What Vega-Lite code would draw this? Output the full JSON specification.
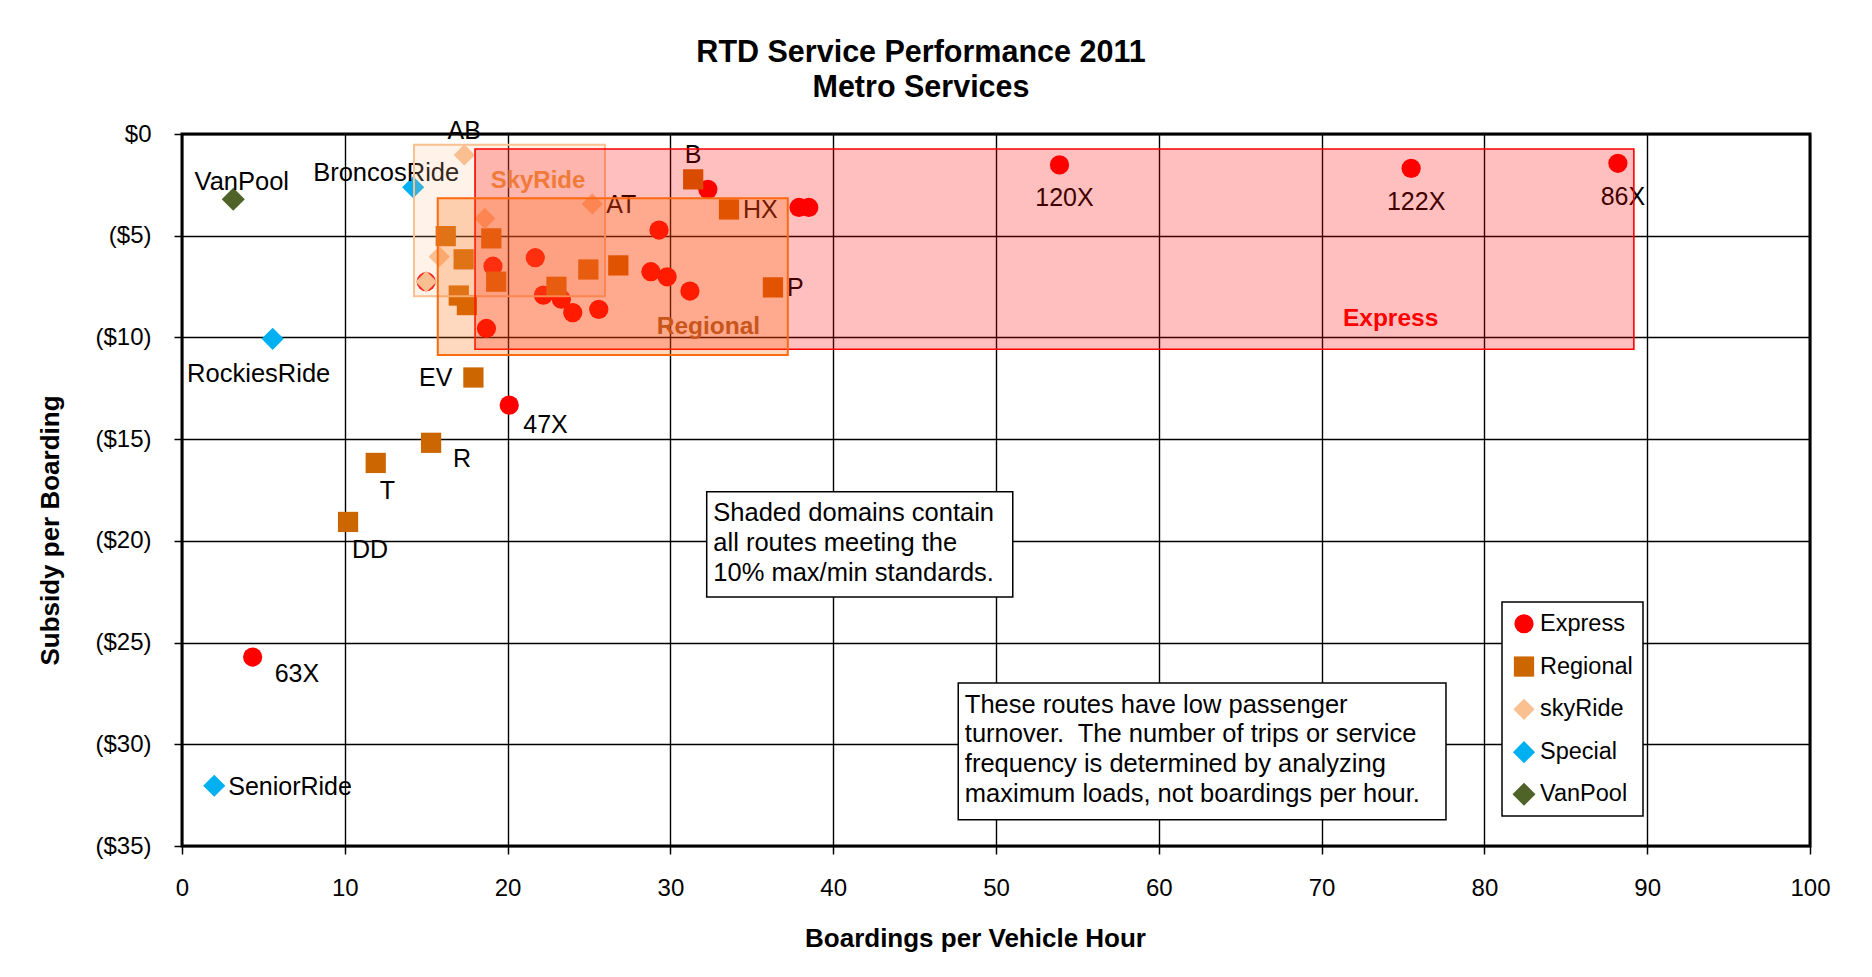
{
  "$schema": "https://vega.github.io/schema/vega-lite/v6.json",
  "width": 1628,
  "height": 712,
  "autosize": {"type": "none"},
  "padding": {"left": 182, "top": 134, "right": 62, "bottom": 131},
  "background": "white",
  "title": {
    "text": ["RTD Service Performance 2011", "Metro Services"],
    "font": "Liberation Sans",
    "fontSize": 30.5,
    "fontWeight": "bold",
    "color": "#000000",
    "anchor": "middle",
    "baseline": "bottom",
    "lineHeight": 35,
    "dx": -75,
    "dy": 45,
    "offset": 30
  },
  "config": {
    "view": {"stroke": "#000000", "strokeWidth": 3},
    "font": "Liberation Sans",
    "axis": {
      "domain": false,
      "grid": true,
      "gridColor": "#000000",
      "gridWidth": 1.4,
      "gridOpacity": 1,
      "ticks": true,
      "tickColor": "#000000",
      "tickWidth": 1.5,
      "tickSize": 8,
      "labelFlush": false,
      "labelOverlap": false,
      "labelFont": "Liberation Sans",
      "labelFontSize": 24,
      "labelColor": "#000000",
      "titleFont": "Liberation Sans",
      "titleFontSize": 26,
      "titleFontWeight": "bold",
      "titleColor": "#000000"
    },
    "legend": {
      "orient": "none",
      "legendX": 1320,
      "legendY": 468,
      "fillColor": "white",
      "strokeColor": "#000000",
      "strokeWidth": 1.5,
      "padding": 10,
      "labelFont": "Liberation Sans",
      "labelFontSize": 23.5,
      "labelColor": "#000000",
      "symbolSize": 110,
      "symbolStrokeWidth": 0,
      "rowPadding": 17.8,
      "labelOffset": 4
    }
  },
  "data": {
    "values": [
      {"route": "120X", "type": "Express", "bph": 53.9, "subsidy": -1.52},
      {"route": "122X", "type": "Express", "bph": 75.5, "subsidy": -1.69},
      {"route": "86X", "type": "Express", "bph": 88.2, "subsidy": -1.44},
      {"route": "", "type": "Express", "bph": 32.3, "subsidy": -2.72},
      {"route": "", "type": "Express", "bph": 37.9, "subsidy": -3.61},
      {"route": "", "type": "Express", "bph": 38.5, "subsidy": -3.61},
      {"route": "", "type": "Express", "bph": 29.3, "subsidy": -4.72},
      {"route": "", "type": "Express", "bph": 19.1, "subsidy": -6.5},
      {"route": "", "type": "Express", "bph": 21.7, "subsidy": -6.08},
      {"route": "", "type": "Express", "bph": 28.8, "subsidy": -6.77},
      {"route": "", "type": "Express", "bph": 29.8, "subsidy": -7.02},
      {"route": "", "type": "Express", "bph": 31.2, "subsidy": -7.72},
      {"route": "", "type": "Express", "bph": 22.2, "subsidy": -7.92},
      {"route": "", "type": "Express", "bph": 23.3, "subsidy": -8.12},
      {"route": "", "type": "Express", "bph": 24.0, "subsidy": -8.78},
      {"route": "", "type": "Express", "bph": 25.6, "subsidy": -8.62},
      {"route": "", "type": "Express", "bph": 18.7, "subsidy": -9.56},
      {"route": "", "type": "Express", "bph": 15.0, "subsidy": -7.26},
      {"route": "47X", "type": "Express", "bph": 20.1, "subsidy": -13.33},
      {"route": "63X", "type": "Express", "bph": 4.34, "subsidy": -25.71},
      {"route": "", "type": "Regional", "bph": 16.2, "subsidy": -5.02},
      {"route": "", "type": "Regional", "bph": 19.0, "subsidy": -5.13},
      {"route": "", "type": "Regional", "bph": 17.3, "subsidy": -6.16},
      {"route": "", "type": "Regional", "bph": 19.3, "subsidy": -7.26},
      {"route": "", "type": "Regional", "bph": 17.0, "subsidy": -7.94},
      {"route": "", "type": "Regional", "bph": 17.5, "subsidy": -8.41},
      {"route": "", "type": "Regional", "bph": 24.96, "subsidy": -6.66},
      {"route": "", "type": "Regional", "bph": 26.8, "subsidy": -6.46},
      {"route": "", "type": "Regional", "bph": 23.0, "subsidy": -7.51},
      {"route": "B", "type": "Regional", "bph": 31.4, "subsidy": -2.23},
      {"route": "HX", "type": "Regional", "bph": 33.6, "subsidy": -3.71},
      {"route": "P", "type": "Regional", "bph": 36.3, "subsidy": -7.54},
      {"route": "EV", "type": "Regional", "bph": 17.9, "subsidy": -11.97},
      {"route": "R", "type": "Regional", "bph": 15.3, "subsidy": -15.18},
      {"route": "T", "type": "Regional", "bph": 11.9, "subsidy": -16.17},
      {"route": "DD", "type": "Regional", "bph": 10.2, "subsidy": -19.07},
      {"route": "AB", "type": "skyRide", "bph": 17.34, "subsidy": -1.03},
      {"route": "", "type": "skyRide", "bph": 18.6, "subsidy": -4.15},
      {"route": "AT", "type": "skyRide", "bph": 25.2, "subsidy": -3.44},
      {"route": "", "type": "skyRide", "bph": 15.8, "subsidy": -6.03},
      {"route": "", "type": "skyRide", "bph": 15.0, "subsidy": -7.26},
      {"route": "BroncosRide", "type": "Special", "bph": 14.2, "subsidy": -2.62},
      {"route": "RockiesRide", "type": "Special", "bph": 5.57, "subsidy": -10.07},
      {"route": "SeniorRide", "type": "Special", "bph": 1.98, "subsidy": -32.04},
      {"route": "VanPool", "type": "VanPool", "bph": 3.15, "subsidy": -3.21}
    ]
  },
  "layer": [
    {
      "mark": {"type": "point", "filled": true, "opacity": 1, "strokeWidth": 0},
      "encoding": {
        "x": {
          "field": "bph", "type": "quantitative",
          "title": "Boardings per Vehicle Hour",
          "scale": {"domain": [0, 100], "nice": false},
          "axis": {
            "values": [0, 10, 20, 30, 40, 50, 60, 70, 80, 90, 100],
            "labelPadding": 22,
            "titleX": 793,
            "titleY": 100,
            "titleAlign": "center",
            "titleBaseline": "alphabetic"
          }
        },
        "y": {
          "field": "subsidy", "type": "quantitative",
          "title": "Subsidy per Boarding",
          "scale": {"domain": [-35, 0], "nice": false},
          "axis": {
            "values": [0, -5, -10, -15, -20, -25, -30, -35],
            "labelExpr": "datum.value == 0 ? '$0' : '($' + (-datum.value) + ')'",
            "labelPadding": 23,
            "titleAngle": 270,
            "titleX": -132,
            "titleY": 396,
            "titleAlign": "center",
            "titleBaseline": "middle"
          }
        },
        "color": {
          "field": "type", "type": "nominal",
          "scale": {
            "domain": ["Express", "Regional", "skyRide", "Special", "VanPool"],
            "range": ["#FF0000", "#CC6600", "#FAC090", "#00B0F0", "#4F6228"]
          },
          "legend": {"title": null}
        },
        "shape": {
          "field": "type", "type": "nominal",
          "scale": {
            "domain": ["Express", "Regional", "skyRide", "Special", "VanPool"],
            "range": ["circle", "square", "diamond", "diamond", "diamond"]
          },
          "legend": {"title": null}
        },
        "size": {
          "field": "type", "type": "nominal",
          "scale": {
            "domain": ["Express", "Regional", "skyRide", "Special", "VanPool"],
            "range": [370, 530, 400, 470, 440]
          },
          "legend": null
        }
      }
    },
    {
      "transform": [{"filter": {"field": "route", "oneOf": ["120X", "122X", "86X"]}}],
      "mark": {"type": "text", "align": "center", "baseline": "alphabetic", "dx": 5, "dy": 41.5, "fontSize": 25, "font": "Liberation Sans", "color": "#000000"},
      "encoding": {
        "x": {"field": "bph", "type": "quantitative", "title": "Boardings per Vehicle Hour", "scale": {"domain": [0, 100], "nice": false}},
        "y": {"field": "subsidy", "type": "quantitative", "title": "Subsidy per Boarding", "scale": {"domain": [-35, 0], "nice": false}},
        "text": {"field": "route"}
      }
    },
    {
      "transform": [{"filter": {"field": "route", "oneOf": ["T", "DD"]}}],
      "mark": {"type": "text", "align": "left", "baseline": "alphabetic", "dx": 4, "dy": 36, "fontSize": 25, "font": "Liberation Sans", "color": "#000000"},
      "encoding": {
        "x": {"field": "bph", "type": "quantitative", "title": "Boardings per Vehicle Hour", "scale": {"domain": [0, 100], "nice": false}},
        "y": {"field": "subsidy", "type": "quantitative", "title": "Subsidy per Boarding", "scale": {"domain": [-35, 0], "nice": false}},
        "text": {"field": "route"}
      }
    },
    {
      "transform": [{"filter": {"field": "route", "oneOf": ["47X"]}}],
      "mark": {"type": "text", "align": "left", "baseline": "alphabetic", "dx": 14, "dy": 28, "fontSize": 25, "font": "Liberation Sans", "color": "#000000"},
      "encoding": {
        "x": {"field": "bph", "type": "quantitative", "title": "Boardings per Vehicle Hour", "scale": {"domain": [0, 100], "nice": false}},
        "y": {"field": "subsidy", "type": "quantitative", "title": "Subsidy per Boarding", "scale": {"domain": [-35, 0], "nice": false}},
        "text": {"field": "route"}
      }
    },
    {
      "transform": [{"filter": {"field": "route", "oneOf": ["63X", "R"]}}],
      "mark": {"type": "text", "align": "left", "baseline": "alphabetic", "dx": 22, "dy": 24.5, "fontSize": 25, "font": "Liberation Sans", "color": "#000000"},
      "encoding": {
        "x": {"field": "bph", "type": "quantitative", "title": "Boardings per Vehicle Hour", "scale": {"domain": [0, 100], "nice": false}},
        "y": {"field": "subsidy", "type": "quantitative", "title": "Subsidy per Boarding", "scale": {"domain": [-35, 0], "nice": false}},
        "text": {"field": "route"}
      }
    },
    {
      "transform": [{"filter": {"field": "route", "oneOf": ["HX", "P", "AT", "SeniorRide"]}}],
      "mark": {"type": "text", "align": "left", "baseline": "alphabetic", "dx": 14, "dy": 9, "fontSize": 25, "font": "Liberation Sans", "color": "#000000"},
      "encoding": {
        "x": {"field": "bph", "type": "quantitative", "title": "Boardings per Vehicle Hour", "scale": {"domain": [0, 100], "nice": false}},
        "y": {"field": "subsidy", "type": "quantitative", "title": "Subsidy per Boarding", "scale": {"domain": [-35, 0], "nice": false}},
        "text": {"field": "route"}
      }
    },
    {
      "transform": [{"filter": {"field": "route", "oneOf": ["EV"]}}],
      "mark": {"type": "text", "align": "right", "baseline": "alphabetic", "dx": -21, "dy": 8, "fontSize": 25, "font": "Liberation Sans", "color": "#000000"},
      "encoding": {
        "x": {"field": "bph", "type": "quantitative", "title": "Boardings per Vehicle Hour", "scale": {"domain": [0, 100], "nice": false}},
        "y": {"field": "subsidy", "type": "quantitative", "title": "Subsidy per Boarding", "scale": {"domain": [-35, 0], "nice": false}},
        "text": {"field": "route"}
      }
    },
    {
      "transform": [{"filter": {"field": "route", "oneOf": ["B", "AB"]}}],
      "mark": {"type": "text", "align": "center", "baseline": "alphabetic", "dx": 0, "dy": -16, "fontSize": 25, "font": "Liberation Sans", "color": "#000000"},
      "encoding": {
        "x": {"field": "bph", "type": "quantitative", "title": "Boardings per Vehicle Hour", "scale": {"domain": [0, 100], "nice": false}},
        "y": {"field": "subsidy", "type": "quantitative", "title": "Subsidy per Boarding", "scale": {"domain": [-35, 0], "nice": false}},
        "text": {"field": "route"}
      }
    },
    {
      "transform": [{"filter": {"field": "route", "oneOf": ["VanPool"]}}],
      "mark": {"type": "text", "align": "center", "baseline": "alphabetic", "dx": 8.5, "dy": -9, "fontSize": 25.5, "font": "Liberation Sans", "color": "#000000"},
      "encoding": {
        "x": {"field": "bph", "type": "quantitative", "title": "Boardings per Vehicle Hour", "scale": {"domain": [0, 100], "nice": false}},
        "y": {"field": "subsidy", "type": "quantitative", "title": "Subsidy per Boarding", "scale": {"domain": [-35, 0], "nice": false}},
        "text": {"field": "route"}
      }
    },
    {
      "transform": [{"filter": {"field": "route", "oneOf": ["BroncosRide"]}}],
      "mark": {"type": "text", "align": "center", "baseline": "alphabetic", "dx": -27, "dy": -6.6, "fontSize": 25.5, "font": "Liberation Sans", "color": "#000000"},
      "encoding": {
        "x": {"field": "bph", "type": "quantitative", "title": "Boardings per Vehicle Hour", "scale": {"domain": [0, 100], "nice": false}},
        "y": {"field": "subsidy", "type": "quantitative", "title": "Subsidy per Boarding", "scale": {"domain": [-35, 0], "nice": false}},
        "text": {"field": "route"}
      }
    },
    {
      "transform": [{"filter": {"field": "route", "oneOf": ["RockiesRide"]}}],
      "mark": {"type": "text", "align": "center", "baseline": "alphabetic", "dx": -14, "dy": 43, "fontSize": 25.5, "font": "Liberation Sans", "color": "#000000"},
      "encoding": {
        "x": {"field": "bph", "type": "quantitative", "title": "Boardings per Vehicle Hour", "scale": {"domain": [0, 100], "nice": false}},
        "y": {"field": "subsidy", "type": "quantitative", "title": "Subsidy per Boarding", "scale": {"domain": [-35, 0], "nice": false}},
        "text": {"field": "route"}
      }
    },
    {
      "data": {"name": "domains", "values": [
        {"domain": "SkyRide", "x1": 14.25, "x2": 25.98, "y1": -0.53, "y2": -7.97, "lx": 18.96, "ly": -2.67},
        {"domain": "Express", "x1": 18.0, "x2": 89.18, "y1": -0.74, "y2": -10.58, "lx": 71.31, "ly": -9.44},
        {"domain": "Regional", "x1": 15.71, "x2": 37.21, "y1": -3.16, "y2": -10.86, "lx": 29.16, "ly": -9.84}
      ]},
      "layer": [
        {
          "transform": [{"filter": "datum.domain == 'SkyRide'"}],
          "mark": {"type": "rect", "fill": "#FAC090", "fillOpacity": 0.2, "stroke": "#FAC090", "strokeWidth": 2},
          "encoding": {
            "x": {"field": "x1", "type": "quantitative", "title": "Boardings per Vehicle Hour", "scale": {"domain": [0, 100], "nice": false}},
            "x2": {"field": "x2"},
            "y": {"field": "y1", "type": "quantitative", "title": "Subsidy per Boarding", "scale": {"domain": [-35, 0], "nice": false}},
            "y2": {"field": "y2"}
          }
        },
        {
          "transform": [{"filter": "datum.domain == 'Express'"}],
          "mark": {"type": "rect", "fill": "#FF0000", "fillOpacity": 0.25, "stroke": "#FF0000", "strokeWidth": 1.6},
          "encoding": {
            "x": {"field": "x1", "type": "quantitative", "title": "Boardings per Vehicle Hour", "scale": {"domain": [0, 100], "nice": false}},
            "x2": {"field": "x2"},
            "y": {"field": "y1", "type": "quantitative", "title": "Subsidy per Boarding", "scale": {"domain": [-35, 0], "nice": false}},
            "y2": {"field": "y2"}
          }
        },
        {
          "transform": [{"filter": "datum.domain == 'Regional'"}],
          "mark": {"type": "rect", "fill": "#FF6600", "fillOpacity": 0.25, "stroke": "#FF6A10", "strokeWidth": 2},
          "encoding": {
            "x": {"field": "x1", "type": "quantitative", "title": "Boardings per Vehicle Hour", "scale": {"domain": [0, 100], "nice": false}},
            "x2": {"field": "x2"},
            "y": {"field": "y1", "type": "quantitative", "title": "Subsidy per Boarding", "scale": {"domain": [-35, 0], "nice": false}},
            "y2": {"field": "y2"}
          }
        },
        {
          "transform": [{"filter": "datum.domain == 'SkyRide'"}],
          "mark": {"type": "text", "align": "left", "baseline": "alphabetic", "fontSize": 24, "fontWeight": "bold", "font": "Liberation Sans", "color": "#F07A38"},
          "encoding": {
            "x": {"field": "lx", "type": "quantitative", "title": "Boardings per Vehicle Hour", "scale": {"domain": [0, 100], "nice": false}},
            "y": {"field": "ly", "type": "quantitative", "title": "Subsidy per Boarding", "scale": {"domain": [-35, 0], "nice": false}},
            "text": {"field": "domain"}
          }
        },
        {
          "transform": [{"filter": "datum.domain == 'Express'"}],
          "mark": {"type": "text", "align": "left", "baseline": "alphabetic", "fontSize": 24.5, "fontWeight": "bold", "font": "Liberation Sans", "color": "#FF0000"},
          "encoding": {
            "x": {"field": "lx", "type": "quantitative", "title": "Boardings per Vehicle Hour", "scale": {"domain": [0, 100], "nice": false}},
            "y": {"field": "ly", "type": "quantitative", "title": "Subsidy per Boarding", "scale": {"domain": [-35, 0], "nice": false}},
            "text": {"field": "domain"}
          }
        },
        {
          "transform": [{"filter": "datum.domain == 'Regional'"}],
          "mark": {"type": "text", "align": "left", "baseline": "alphabetic", "fontSize": 24.5, "fontWeight": "bold", "font": "Liberation Sans", "color": "#C8561A"},
          "encoding": {
            "x": {"field": "lx", "type": "quantitative", "title": "Boardings per Vehicle Hour", "scale": {"domain": [0, 100], "nice": false}},
            "y": {"field": "ly", "type": "quantitative", "title": "Subsidy per Boarding", "scale": {"domain": [-35, 0], "nice": false}},
            "text": {"field": "domain"}
          }
        }
      ]
    },
    {
      "data": {"name": "notes", "values": [
        {"note": "Shaded domains contain\nall routes meeting the\n10% max/min standards.", "x1": 32.23, "x2": 51.03, "y1": -17.59, "y2": -22.76},
        {"note": "These routes have low passenger\nturnover.\u00a0 The number of trips or service\nfrequency is determined by analyzing\nmaximum loads, not boardings per hour.", "x1": 47.68, "x2": 77.64, "y1": -26.99, "y2": -33.71}
      ]},
      "layer": [
        {
          "mark": {"type": "rect", "fill": "white", "stroke": "#000000", "strokeWidth": 1.5},
          "encoding": {
            "x": {"field": "x1", "type": "quantitative", "title": "Boardings per Vehicle Hour", "scale": {"domain": [0, 100], "nice": false}},
            "x2": {"field": "x2"},
            "y": {"field": "y1", "type": "quantitative", "title": "Subsidy per Boarding", "scale": {"domain": [-35, 0], "nice": false}},
            "y2": {"field": "y2"}
          }
        },
        {
          "mark": {"type": "text", "align": "left", "baseline": "alphabetic", "dx": 6.6, "dy": 29.5, "lineBreak": "\n", "lineHeight": 29.7, "fontSize": 25.5, "font": "Liberation Sans", "color": "#000000"},
          "encoding": {
            "x": {"field": "x1", "type": "quantitative", "title": "Boardings per Vehicle Hour", "scale": {"domain": [0, 100], "nice": false}},
            "y": {"field": "y1", "type": "quantitative", "title": "Subsidy per Boarding", "scale": {"domain": [-35, 0], "nice": false}},
            "text": {"field": "note"}
          }
        }
      ]
    }
  ]
}
